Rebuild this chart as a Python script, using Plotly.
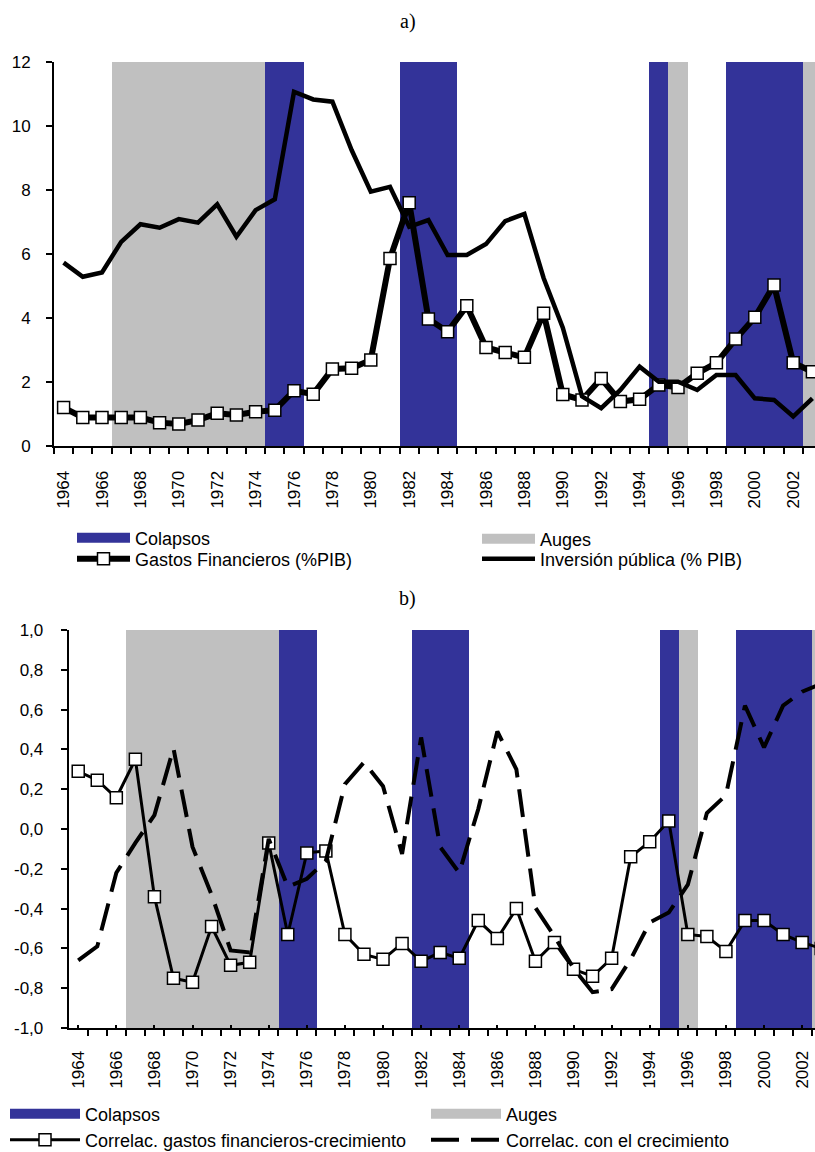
import plotly.graph_objects as go

# ---------------- data ----------------
YEARS = list(range(1964, 2004))

# episodes shaded behind both panels
COLAPSOS = [1975, 1976, 1982, 1983, 1984, 1995, 1999, 2000, 2001, 2002]
AUGES = [1967, 1968, 1969, 1970, 1971, 1972, 1973, 1974, 1996, 2003]

# panel a) : % of GDP
GASTOS_FIN = [1.20, 0.89, 0.89, 0.89, 0.89, 0.73, 0.69, 0.81, 1.02, 0.97,
              1.07, 1.12, 1.73, 1.62, 2.41, 2.43, 2.69, 5.86, 7.60, 3.97,
              3.57, 4.38, 3.08, 2.92, 2.77, 4.15, 1.61, 1.44, 2.11, 1.39,
              1.46, 1.91, 1.83, 2.27, 2.60, 3.34, 4.02, 5.03, 2.60, 2.32]
INV_PUBLICA = [5.73, 5.29, 5.42, 6.38, 6.93, 6.82, 7.09, 6.98, 7.55, 6.54,
               7.37, 7.71, 11.07, 10.83, 10.76, 9.25, 7.95, 8.10, 6.85, 7.06,
               5.97, 5.97, 6.31, 7.03, 7.25, 5.25, 3.70, 1.55, 1.18, 1.75,
               2.48, 2.01, 2.01, 1.75, 2.22, 2.22, 1.49, 1.44, 0.92, 1.49]

# panel b) : correlations
CORR_GASTOS = [0.29, 0.245, 0.157, 0.35, -0.34, -0.75, -0.77, -0.49, -0.685, -0.67,
               -0.07, -0.53, -0.12, -0.11, -0.53, -0.63, -0.655, -0.575, -0.665, -0.62,
               -0.65, -0.46, -0.55, -0.40, -0.665, -0.57, -0.705, -0.74, -0.65, -0.14,
               -0.064, 0.04, -0.53, -0.54, -0.615, -0.46, -0.46, -0.53, -0.57, -0.60]
CORR_CREC = [-0.66, -0.59, -0.22, -0.07, 0.07, 0.405, -0.09, -0.33, -0.61, -0.62,
             -0.05, -0.29, -0.25, -0.16, 0.225, 0.335, 0.215, -0.125, 0.46, -0.09,
             -0.22, 0.10, 0.49, 0.30, -0.395, -0.54, -0.70, -0.82, -0.805, -0.655,
             -0.47, -0.42, -0.28, 0.08, 0.17, 0.62, 0.41, 0.62, 0.69, 0.73]

Y_TICKS_A = [0, 2, 4, 6, 8, 10, 12]
Y_TICKS_B = [-1.0, -0.8, -0.6, -0.4, -0.2, 0.0, 0.2, 0.4, 0.6, 0.8, 1.0]
Y_TICKTEXT_B = ["-1,0", "-0,8", "-0,6", "-0,4", "-0,2", "0,0", "0,2", "0,4", "0,6", "0,8", "1,0"]
X_LABEL_YEARS = list(range(1964, 2004, 2))

# ---------------- style ----------------
BLUE = "#333399"
GREY = "#C0C0C0"
SANS = "Liberation Sans"
SERIF = "Liberation Serif"
W, H = 815, 1152

boundaries = [y - 0.5 for y in YEARS] + [YEARS[-1] + 0.5]


def px_x(p):
    return p / W


def px_y(p):
    return 1 - p / H


# panel geometry (pixels)
A_LEFT, A_TOP, A_BOTTOM, A_STEP = 54, 62, 446, 19.2
B_LEFT, B_TOP, B_BOTTOM, B_STEP = 68.7, 630, 1028, 19.05
A_RANGE = [1963.5, 1963.5 + (W - A_LEFT) / A_STEP]
B_RANGE = [1963.5, 1963.5 + (W - B_LEFT) / B_STEP]

fig = go.Figure()


def key(name, legend, **line):
    # legend key drawn as a wide swatch
    fig.add_trace(go.Scatter(x=[None], y=[None], mode="lines", name=name, line=line,
                             legend=legend, hoverinfo="skip"))


# --- panel a bands ---
fig.add_trace(go.Bar(x=COLAPSOS, y=[12] * len(COLAPSOS), width=1, marker=dict(color=BLUE, line=dict(width=0)),
                     name="Colapsos", xaxis="x", yaxis="y", showlegend=False))
fig.add_trace(go.Bar(x=AUGES, y=[12] * len(AUGES), width=1, marker=dict(color=GREY, line=dict(width=0)),
                     name="Auges", xaxis="x", yaxis="y", showlegend=False))
key("Colapsos", "legend", color=BLUE, width=10)
key("Auges", "legend2", color=GREY, width=10)
# --- panel a lines ---
fig.add_trace(go.Scatter(x=YEARS, y=GASTOS_FIN, mode="lines+markers", name="Gastos Financieros (%PIB)",
                         line=dict(color="black", width=6),
                         marker=dict(symbol="square", size=12, color="white", line=dict(color="black", width=1.5)),
                         xaxis="x", yaxis="y", legend="legend3"))
fig.add_trace(go.Scatter(x=YEARS, y=INV_PUBLICA, mode="lines", name="Inversión pública (% PIB)",
                         line=dict(color="black", width=4.5),
                         xaxis="x", yaxis="y", legend="legend4"))

# --- panel b bands ---
fig.add_trace(go.Bar(x=COLAPSOS, y=[2] * len(COLAPSOS), base=-1, width=1, marker=dict(color=BLUE, line=dict(width=0)),
                     name="Colapsos", xaxis="x2", yaxis="y2", showlegend=False))
fig.add_trace(go.Bar(x=AUGES, y=[2] * len(AUGES), base=-1, width=1, marker=dict(color=GREY, line=dict(width=0)),
                     name="Auges", xaxis="x2", yaxis="y2", showlegend=False))
key("Colapsos", "legend5", color=BLUE, width=10)
key("Auges", "legend6", color=GREY, width=10)
# --- panel b lines ---
fig.add_trace(go.Scatter(x=YEARS, y=CORR_GASTOS, mode="lines+markers",
                         name="Correlac. gastos financieros-crecimiento",
                         line=dict(color="black", width=3),
                         marker=dict(symbol="square", size=12, color="white", line=dict(color="black", width=1.5)),
                         xaxis="x2", yaxis="y2", legend="legend7"))
fig.add_trace(go.Scatter(x=YEARS, y=CORR_CREC, mode="lines", name="Correlac. con el crecimiento",
                         line=dict(color="black", width=4, dash="28px,12px"),
                         xaxis="x2", yaxis="y2", legend="legend8"))

tickfont = dict(family=SANS, size=17, color="black")
common = dict(showgrid=False, zeroline=False, fixedrange=True, automargin=False)

a_xdom = [px_x(A_LEFT), 1]
a_ydom = [px_y(A_BOTTOM), px_y(A_TOP)]
b_xdom = [px_x(B_LEFT), 1]
b_ydom = [px_y(B_BOTTOM), px_y(B_TOP)]

layout_axes = dict(
    # panel a
    xaxis=dict(domain=a_xdom, range=A_RANGE, anchor="y", showline=True, linecolor="black", linewidth=2,
               tickmode="array", tickvals=X_LABEL_YEARS, ticktext=[str(v) for v in X_LABEL_YEARS],
               ticks="", tickangle=-90, tickfont=tickfont, ticklabelstandoff=16,
               minor=dict(tickmode="array", tickvals=boundaries, ticks="outside", ticklen=6,
                          tickwidth=2, tickcolor="black"), **common),
    xaxis3=dict(overlaying="x", anchor="y", range=A_RANGE, domain=a_xdom, showline=False,
                tickmode="array", tickvals=boundaries, ticks="inside", ticklen=3, tickwidth=2,
                tickcolor="black", showticklabels=False, **common),
    yaxis=dict(domain=a_ydom, range=[0, 12], anchor="x", showline=True, linecolor="black", linewidth=2,
               tickmode="array", tickvals=Y_TICKS_A, ticks="outside", ticklen=6, tickwidth=2, tickcolor="black",
               tickfont=tickfont, ticklabelstandoff=12, **common),
    yaxis3=dict(overlaying="y", anchor="x", range=[0, 12], domain=a_ydom, showline=False,
                tickmode="array", tickvals=Y_TICKS_A, ticks="inside", ticklen=6, tickwidth=2, tickcolor="black",
                showticklabels=False, **common),
    # panel b
    xaxis2=dict(domain=b_xdom, range=B_RANGE, anchor="y2", showline=True, linecolor="black", linewidth=2,
                tickmode="array", tickvals=X_LABEL_YEARS, ticktext=[str(v) for v in X_LABEL_YEARS],
                ticks="inside", ticklen=3, tickwidth=2, tickcolor="black",
                tickangle=-90, tickfont=tickfont, ticklabelstandoff=14,
                minor=dict(tickmode="array", tickvals=boundaries, ticks="outside", ticklen=6,
                           tickwidth=2, tickcolor="black"), **common),
    yaxis2=dict(domain=b_ydom, range=[-1, 1], anchor="x2", showline=True, linecolor="black", linewidth=2,
                tickmode="array", tickvals=Y_TICKS_B, ticktext=Y_TICKTEXT_B,
                ticks="outside", ticklen=6, tickwidth=2, tickcolor="black",
                tickfont=tickfont, ticklabelstandoff=14, **common),
)


def legend_at(x, y, width):
    return dict(orientation="v", xanchor="left", yanchor="middle", x=px_x(x), y=px_y(y),
                bgcolor="rgba(0,0,0,0)", borderwidth=0, itemwidth=width,
                font=dict(family=SANS, size=18, color="black"),
                itemclick=False, itemdoubleclick=False)


fig.update_layout(
    width=W, height=H,
    margin=dict(l=0, r=0, t=0, b=0, autoexpand=False),
    paper_bgcolor="white", plot_bgcolor="white",
    barmode="overlay", bargap=0,
    separators=",.",
    legend=legend_at(72, 538, 53),
    legend2=legend_at(477, 539, 53),
    legend3=legend_at(72, 559, 53),
    legend4=legend_at(477, 559, 53),
    legend5=legend_at(5, 1114, 70),
    legend6=legend_at(426, 1114, 70),
    legend7=legend_at(5, 1140, 70),
    legend8=legend_at(426, 1140, 70),
    annotations=[
        dict(text="a)", x=0.5, y=px_y(22), xref="paper", yref="paper", showarrow=False,
             yanchor="middle", font=dict(family=SERIF, size=20, color="black")),
        dict(text="b)", x=0.5, y=px_y(598), xref="paper", yref="paper", showarrow=False,
             yanchor="middle", font=dict(family=SERIF, size=20, color="black")),
    ],
    **layout_axes,
)

fig.write_html("out.html")
